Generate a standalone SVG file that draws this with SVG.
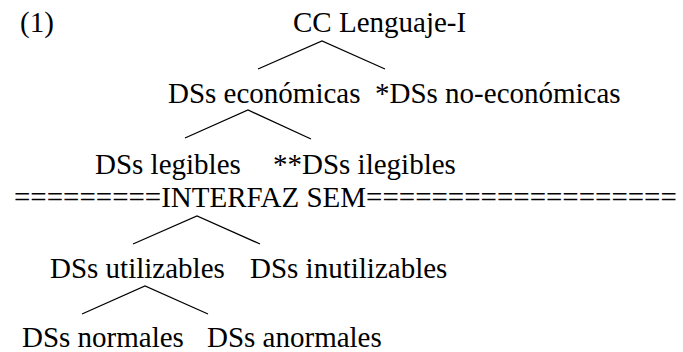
<svg xmlns="http://www.w3.org/2000/svg" width="683" height="352" viewBox="0 0 683 352">
<style>
text{font-family:"Liberation Serif","Times New Roman",serif;font-size:29px;fill:#000}
.edge{fill:none;stroke:#000;stroke-width:1.3}
</style>
<rect width="683" height="352" fill="#fff"/>
<g id="label"><text x="20" y="32">(1)</text></g>
<g id="connectors">
<polyline class="edge" points="258,69 322,41 385,69"/>
<polyline class="edge" points="185,138 248,110 311,139"/>
<polyline class="edge" points="133,244 197,216 260,244"/>
<polyline class="edge" points="82,314 145,286 208,314"/>
</g>
<g id="n-cc"><text x="293" y="32">CC Lenguaje-I</text></g>
<g id="n-economicas"><text x="168" y="103">DSs económicas</text></g>
<g id="n-noeconomicas"><text x="375" y="103">*DSs no-económicas</text></g>
<g id="n-legibles"><text x="95" y="174">DSs legibles</text></g>
<g id="n-ilegibles"><text x="273" y="174">**DSs ilegibles</text></g>
<g id="interfaz"><text x="14" y="207">=========INTERFAZ SEM===================</text></g>
<g id="n-utilizables"><text x="50" y="278">DSs utilizables</text></g>
<g id="n-inutilizables"><text x="250" y="278">DSs inutilizables</text></g>
<g id="n-normales"><text x="22" y="347">DSs normales</text></g>
<g id="n-anormales"><text x="207" y="347">DSs anormales</text></g>
</svg>
